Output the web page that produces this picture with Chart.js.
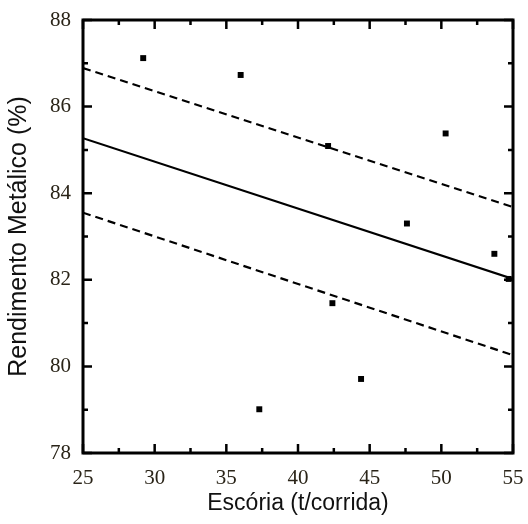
<!DOCTYPE html>
<html>
<head>
<meta charset="utf-8">
<script src="https://cdn.jsdelivr.net/npm/chart.js@4"></script>
<style>
  html, body { margin: 0; padding: 0; background: #fff; }
  #wrap { width: 528px; height: 524px; }
</style>
</head>
<body>
<div id="wrap"><canvas id="chart" width="528" height="524"></canvas></div>
<script>
// measured points
const escoria = [29.2, 36.0, 42.1, 50.3, 47.6, 53.7, 54.7, 42.4, 44.4, 37.3];
const rendimento = [87.12, 86.73, 85.09, 85.38, 83.30, 82.60, 82.02, 81.46, 79.71, 79.01];

// regression line and bands (ends at x = 25 and 55)
const lineX = [25, 55];
const fitY = [85.27, 82.02];
const upperY = [86.89, 83.68];
const lowerY = [83.55, 80.26];

const xTicks = [25, 30, 35, 40, 45, 50, 55];
const yTicks = [78, 80, 82, 84, 86, 88];

const toXY = (xs, ys) => xs.map((x, i) => ({ x, y: ys[i] }));

const frameTicks = {
  id: "frameTicks",
  afterDraw(chart) {
    const { ctx, chartArea: a, scales: { x, y } } = chart;
    ctx.save();
    ctx.strokeStyle = "#000";
    ctx.lineWidth = 3;
    ctx.strokeRect(a.left, a.top, a.right - a.left, a.bottom - a.top);
    ctx.lineWidth = 2.5;
    ctx.beginPath();
    for (let v = 25; v <= 55; v += 2.5) {
      const px = x.getPixelForValue(v);
      const len = (v % 5 === 0) ? 9 : 5;
      ctx.moveTo(px, a.bottom); ctx.lineTo(px, a.bottom - len);
      ctx.moveTo(px, a.top); ctx.lineTo(px, a.top + len);
    }
    for (let v = 78; v <= 88; v += 1) {
      const py = y.getPixelForValue(v);
      const len = (v % 2 === 0) ? 9 : 5;
      ctx.moveTo(a.left, py); ctx.lineTo(a.left + len, py);
      ctx.moveTo(a.right, py); ctx.lineTo(a.right - len, py);
    }
    ctx.stroke();
    ctx.restore();
  }
};

new Chart(document.getElementById("chart").getContext("2d"), {
  type: "scatter",
  data: {
    datasets: [
      { data: toXY(escoria, rendimento), pointStyle: "rect", pointRadius: 4.2, backgroundColor: "#000", borderColor: "#000", borderWidth: 0 },
      { type: "line", data: toXY(lineX, fitY), borderColor: "#000", borderWidth: 2.2, pointRadius: 0, fill: false },
      { type: "line", data: toXY(lineX, upperY), borderColor: "#000", borderWidth: 2.2, borderDash: [8, 5], pointRadius: 0, fill: false },
      { type: "line", data: toXY(lineX, lowerY), borderColor: "#000", borderWidth: 2.2, borderDash: [8, 5], pointRadius: 0, fill: false }
    ]
  },
  options: {
    responsive: false,
    animation: false,
    layout: { padding: { top: 20, right: 15, bottom: 7, left: 4 } },
    plugins: { legend: { display: false }, tooltip: { enabled: false } },
    scales: {
      x: {
        type: "linear", min: 25, max: 55,
        afterBuildTicks: s => { s.ticks = xTicks.map(v => ({ value: v })); },
        afterFit: s => { s.height = 64; s.paddingLeft = 0; s.paddingRight = 0; },
        grid: { display: false, drawTicks: false },
        border: { display: false },
        ticks: { padding: 13, color: "#2a2418", font: { family: "Liberation Serif", size: 21 } },
        title: { display: true, text: "Escória (t/corrida)", color: "#111", padding: { top: 4, bottom: 0 }, font: { family: "Liberation Sans", size: 23 } }
      },
      y: {
        type: "linear", min: 78, max: 88,
        afterBuildTicks: s => { s.ticks = yTicks.map(v => ({ value: v })); },
        afterFit: s => { s.width = 79; s.paddingTop = 0; s.paddingBottom = 0; },
        grid: { display: false, drawTicks: false },
        border: { display: false },
        ticks: { padding: 12, color: "#2a2418", font: { family: "Liberation Serif", size: 21 } },
        title: { display: true, text: "Rendimento Metálico (%)", color: "#111", padding: { top: 0, bottom: 0 }, font: { family: "Liberation Sans", size: 25 } }
      }
    }
  },
  plugins: [frameTicks]
});
</script>
</body>
</html>
